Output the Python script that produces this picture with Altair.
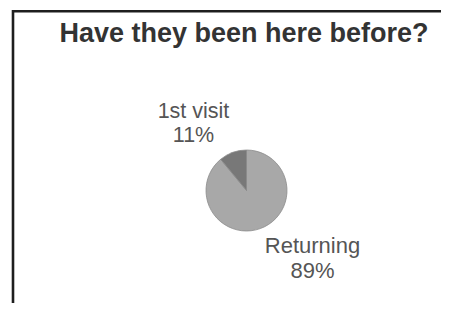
import altair as alt
import pandas as pd

categories = ["Returning", "1st visit"]
shares = [89, 11]
slice_order = [1, 2]
slice_colors = ["#a8a8a8", "#787878"]
title_text = "Have they been here before?"

df = pd.DataFrame({"category": categories, "share": shares, "ord": slice_order})

W, H = 433, 295
CX, CY = 238.5, 182.5

pie = alt.Chart(df).mark_arc(outerRadius=40.5, stroke="#8c8c8c", strokeWidth=0.8).encode(
    theta=alt.Theta("share:Q", stack=True),
    color=alt.Color("category:N", scale=alt.Scale(domain=categories, range=slice_colors), legend=None),
    order=alt.Order("ord:Q"),
    x=alt.value(CX),
    y=alt.value(CY),
)

def label(i, x, y, size):
    d = pd.DataFrame({"t": [f"{categories[i]}\n{shares[i]}%"]})
    return alt.Chart(d).mark_text(
        font="Liberation Sans", fontSize=size, color="#555555", align="center",
        baseline="alphabetic", lineBreak="\n", lineHeight=24.5,
    ).encode(text="t:N", x=alt.value(x), y=alt.value(y))

lab1 = label(1, 185.5, 109.7, 21.5)
lab0 = label(0, 304.5, 245.3, 22)

title = alt.Chart(pd.DataFrame({"t": [title_text]})).mark_text(
    font="Liberation Sans", fontSize=27, fontWeight="bold", color="#333333",
    align="center", baseline="alphabetic",
).encode(text="t:N", x=alt.value(236), y=alt.value(34.3))

top_border = alt.Chart(pd.DataFrame({"a": [0]})).mark_rule(color="#1e1e1e", strokeWidth=2.6).encode(
    x=alt.value(4), x2=alt.value(W), y=alt.value(3.2)
)
left_border = alt.Chart(pd.DataFrame({"a": [0]})).mark_rule(color="#1e1e1e", strokeWidth=2.6).encode(
    x=alt.value(5), y=alt.value(2), y2=alt.value(H)
)

chart = alt.layer(pie, lab1, lab0, title, top_border, left_border).properties(
    width=W, height=H, padding=0, autosize=alt.AutoSizeParams(type="none"),
    background="#ffffff",
).configure_view(stroke=None)

chart.save("out.html", embed_options={"renderer": "svg", "actions": False})
